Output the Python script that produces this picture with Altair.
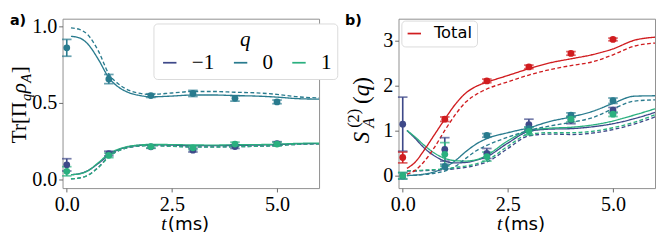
import altair as alt
import pandas as pd

# ---------------- data ----------------
T_FIT = [0.1, 0.3, 0.5, 0.75, 1.0, 1.25, 1.5, 1.75, 2.0, 2.5, 3.0, 3.5, 4.0, 4.5, 5.0, 5.5, 6.0]
T_EXP = [0, 1, 2, 3, 4, 5]
Q_LABELS = ["−1", "0", "1"]

# panel a: populations Tr[Pi_q rho_A]
a_fit_solid = {
    "−1": [0.032, 0.038, 0.058, 0.105, 0.160, 0.198, 0.216, 0.224, 0.227, 0.225, 0.221, 0.221, 0.223, 0.225, 0.228, 0.233, 0.235],
    "0": [0.935, 0.925, 0.885, 0.785, 0.665, 0.600, 0.565, 0.548, 0.540, 0.545, 0.552, 0.552, 0.548, 0.545, 0.538, 0.528, 0.525],
    "1": [0.032, 0.037, 0.057, 0.110, 0.168, 0.200, 0.218, 0.226, 0.230, 0.228, 0.226, 0.225, 0.227, 0.228, 0.231, 0.236, 0.238],
}
a_fit_dashed = {
    "−1": [0.005, 0.010, 0.028, 0.080, 0.150, 0.190, 0.210, 0.219, 0.222, 0.218, 0.213, 0.213, 0.215, 0.217, 0.222, 0.230, 0.233],
    "0": [0.990, 0.980, 0.945, 0.840, 0.690, 0.620, 0.580, 0.562, 0.556, 0.565, 0.575, 0.575, 0.570, 0.566, 0.556, 0.540, 0.533],
    "1": [0.005, 0.010, 0.027, 0.078, 0.148, 0.190, 0.210, 0.220, 0.222, 0.217, 0.212, 0.212, 0.215, 0.217, 0.222, 0.230, 0.234],
}
a_exp = {
    "−1": [0.096, 0.170, 0.214, 0.192, 0.215, 0.235],
    "0": [0.860, 0.656, 0.548, 0.562, 0.530, 0.507],
    "1": [0.054, 0.158, 0.215, 0.207, 0.232, 0.232],
}
a_err = {
    "−1": [0.040, 0.015, 0.010, 0.012, 0.012, 0.012],
    "0": [0.055, 0.030, 0.012, 0.020, 0.018, 0.012],
    "1": [0.030, 0.015, 0.010, 0.012, 0.012, 0.012],
}

# panel b: Renyi-2 entropies S_A^(2)(q) and total
b_fit_solid = {
    "−1": [1.00, 0.82, 0.62, 0.44, 0.32, 0.28, 0.29, 0.34, 0.42, 0.72, 0.98, 1.03, 1.04, 1.08, 1.15, 1.26, 1.40],
    "0": [0.00, 0.01, 0.03, 0.08, 0.18, 0.33, 0.53, 0.70, 0.82, 0.95, 1.06, 1.20, 1.30, 1.42, 1.60, 1.76, 1.77],
    "1": [1.00, 0.85, 0.68, 0.50, 0.38, 0.33, 0.32, 0.35, 0.45, 0.77, 1.00, 1.05, 1.07, 1.12, 1.21, 1.34, 1.48],
    "Total": [0.16, 0.30, 0.55, 0.90, 1.25, 1.58, 1.83, 1.98, 2.07, 2.22, 2.37, 2.50, 2.59, 2.68, 2.81, 3.00, 3.07],
}
b_fit_dashed = {
    "−1": [0.10, 0.10, 0.11, 0.12, 0.13, 0.15, 0.18, 0.23, 0.30, 0.60, 0.88, 0.92, 0.91, 0.94, 1.02, 1.14, 1.30],
    "0": [0.00, 0.005, 0.02, 0.05, 0.10, 0.20, 0.38, 0.55, 0.67, 0.85, 1.00, 1.10, 1.18, 1.28, 1.48, 1.65, 1.68],
    "1": [0.11, 0.11, 0.12, 0.13, 0.15, 0.18, 0.21, 0.26, 0.34, 0.65, 0.92, 0.95, 0.95, 0.98, 1.06, 1.18, 1.35],
    "Total": [0.03, 0.12, 0.30, 0.62, 1.00, 1.35, 1.63, 1.80, 1.92, 2.08, 2.23, 2.35, 2.44, 2.52, 2.68, 2.87, 2.94],
}
b_exp = {
    "−1": [1.14, 0.58, 0.49, 1.13, 1.23, 1.45],
    "0": [-0.01, 0.20, 0.89, 1.04, 1.34, 1.66],
    "1": [0.00, 0.47, 0.42, 0.98, 1.25, 1.36],
    "Total": [0.40, 1.25, 2.10, 2.41, 2.71, 3.02],
}
b_err = {
    "−1": [0.60, 0.26, 0.11, 0.12, 0.08, 0.06],
    "0": [0.07, 0.05, 0.04, 0.04, 0.05, 0.06],
    "1": [0.07, 0.26, 0.10, 0.08, 0.06, 0.05],
    "Total": [0.12, 0.05, 0.04, 0.04, 0.04, 0.03],
}

COLORS = {"−1": "#3e4989", "0": "#297b8e", "1": "#2ab07f", "Total": "#d01c1f"}

X_TICKS = [0, 2.5, 5.0]
YA_TICKS = [0, 0.5, 1.0]
YB_TICKS = [0, 1, 2, 3]

# ---------------- helpers ----------------
def fit_df(solid, dashed):
    rows = []
    for s, vals in solid.items():
        for t, v in zip(T_FIT, vals):
            rows.append({"t": t, "v": v, "q": s, "style": "solid"})
    for s, vals in dashed.items():
        for t, v in zip(T_FIT, vals):
            rows.append({"t": t, "v": v, "q": s, "style": "dashed"})
    return pd.DataFrame(rows)


def exp_df(vals, errs):
    rows = []
    for s in vals:
        for t, v, e in zip(T_EXP, vals[s], errs[s]):
            rows.append({"t": t, "v": v, "lo": v - e, "hi": v + e, "q": s})
    return pd.DataFrame(rows)


def cap_df(vals, errs):
    rows = []
    for s in vals:
        for t, v, e in zip(T_EXP, vals[s], errs[s]):
            rows.append({"t": t, "c": v - e, "q": s})
            rows.append({"t": t, "c": v + e, "q": s})
    return pd.DataFrame(rows)


ONE = pd.DataFrame({"k": [0]})


def txt(text, x, y, size, font="Liberation Serif", style="normal", weight="normal",
        angle=0, align="left", baseline="alphabetic", dx=0, dy=0):
    return alt.Chart(ONE).mark_text(
        text=text, font=font, fontSize=size, fontStyle=style, fontWeight=weight,
        angle=angle, align=align, baseline=baseline, dx=dx, dy=dy, color="black"
    ).encode(x=alt.value(x), y=alt.value(y))


W, H = 268, 177
XSCALE = alt.Scale(domain=[-0.1, 6.0], nice=False, zero=False)
XAX = alt.Axis(values=X_TICKS, format=".1f", title=None)


def panel(fit, exp, caps, domain, ydomain, yticks, yformat, legend, extra_texts):
    rng = [COLORS[d] for d in domain]
    stroke = alt.Stroke("q:N", scale=alt.Scale(domain=domain, range=rng), legend=legend)
    fill = alt.Fill("q:N", scale=alt.Scale(domain=domain, range=rng), legend=None)
    ysc = alt.Scale(domain=ydomain, nice=False, zero=False)
    yax = alt.Axis(values=yticks, format=yformat, title=None)
    x = alt.X("t:Q", scale=XSCALE, axis=XAX)

    lines = alt.Chart(fit).mark_line(strokeWidth=1.4, interpolate="monotone", clip=True).encode(
        x=x, y=alt.Y("v:Q", scale=ysc, axis=yax), stroke=stroke,
        strokeDash=alt.StrokeDash("style:N", scale=alt.Scale(domain=["solid", "dashed"],
                                                             range=[[1, 0], [4, 2.5]]), legend=None),
    )
    rules = alt.Chart(exp).mark_rule(strokeWidth=1.7).encode(
        x=x, y=alt.Y("lo:Q", scale=ysc, axis=yax), y2="hi:Q", stroke=stroke)
    capm = alt.Chart(caps).mark_tick(orient="horizontal", size=10, thickness=1.8).encode(
        x=x, y=alt.Y("c:Q", scale=ysc, axis=yax), fill=fill)
    pts = alt.Chart(exp).mark_point(filled=True, shape="circle", size=50, opacity=1).encode(
        x=x, y=alt.Y("v:Q", scale=ysc, axis=yax), fill=fill)

    common = [
        txt("t", 103, 221, 20, style="italic"),
        txt("(ms)", 110, 221, 19, font="DejaVu Sans"),
    ]
    return alt.layer(lines, rules, capm, pts, *common, *extra_texts).properties(width=W, height=H)


legend_a = alt.Legend(
    title="q", orient="none", legendX=95, legendY=5, direction="horizontal", columns=3,
    symbolType="stroke", symbolSize=196, symbolStrokeWidth=1.8,
    labelFont="Liberation Serif", labelFontSize=22, labelColor="black", labelOffset=12,
    titleFont="Liberation Serif", titleFontStyle="italic", titleFontSize=22, titleFontWeight="normal",
    titleColor="black", titleAnchor="middle", titlePadding=2,
    padding=6, strokeColor="#d9d9d9", fillColor="white", cornerRadius=4, columnPadding=16,
)
legend_b = alt.Legend(
    title=None, values=["Total"], orient="none", legendX=3, legendY=2,
    symbolType="stroke", symbolSize=196, symbolStrokeWidth=1.8,
    labelFont="DejaVu Sans", labelFontSize=17, labelColor="black", labelOffset=12,
    padding=5, strokeColor="#d9d9d9", fillColor="white", cornerRadius=4,
)

texts_a = [
    txt("a)", -55, -5, 15, font="DejaVu Sans", weight="bold", baseline="top"),
    txt("Tr[Π", -38, 130, 22, angle=270),
    txt("q", -38, 130, 15, style="italic", angle=270, dx=44, dy=5),
    txt("ρ", -38, 130, 22, style="italic", angle=270, dx=52),
    txt("A", -38, 130, 15, style="italic", angle=270, dx=63, dy=5),
    txt("]", -38, 130, 22, angle=270, dx=73),
]
texts_b = [
    txt("b)", -56, -5, 15, font="DejaVu Sans", weight="bold", baseline="top"),
    txt("S", -31, 130, 24, style="italic", angle=270),
    txt("(2)", -31, 130, 17, angle=270, dx=16, dy=-10),
    txt("A", -31, 130, 17, style="italic", angle=270, dx=16, dy=5),
    txt("(", -31, 130, 24, angle=270, dx=41),
    txt("q", -31, 130, 24, style="italic", angle=270, dx=49),
    txt(")", -31, 130, 24, angle=270, dx=61),
]

chart_a = panel(fit_df(a_fit_solid, a_fit_dashed), exp_df(a_exp, a_err), cap_df(a_exp, a_err),
                Q_LABELS, [-0.056, 1.05], YA_TICKS, ".1f", legend_a, texts_a)
chart_b = panel(fit_df(b_fit_solid, b_fit_dashed), exp_df(b_exp, b_err), cap_df(b_exp, b_err),
                Q_LABELS + ["Total"], [-0.28, 3.48], YB_TICKS, "d", legend_b, texts_b)

chart = alt.hconcat(chart_a, chart_b, spacing=6).resolve_scale(
    stroke="independent", fill="independent", y="independent"
).properties(padding=0).configure_view(
    stroke="#8c8c8c", strokeWidth=1
).configure_axis(
    grid=False, domain=False, tickColor="#666666", tickSize=4, tickWidth=1,
    labelFont="Liberation Serif", labelFontSize=21, labelColor="black", labelPadding=2,
)

chart.save("out.html", embed_options={"renderer": "svg", "actions": False})
